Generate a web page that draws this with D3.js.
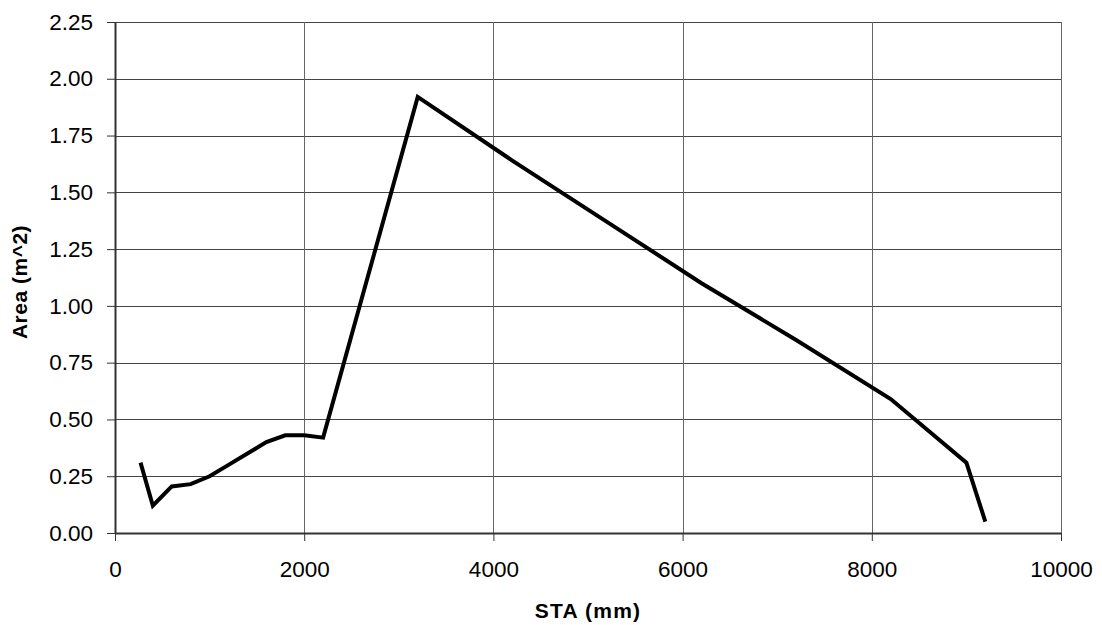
<!DOCTYPE html>
<html>
<head>
<meta charset="utf-8">
<script src="https://cdn.jsdelivr.net/npm/d3@7"></script>
<style>
  html, body { margin: 0; padding: 0; background: #fff; }
  svg { display: block; font-family: "Liberation Sans", Arial, sans-serif; }
</style>
</head>
<body>
<svg id="chart" width="1102" height="625"></svg>
<script>
// Data
const sta  = [270, 400, 600, 800, 1000, 1200, 1400, 1600, 1800, 2000, 2200, 3200, 4200, 5200, 6200, 7200, 8200, 9000, 9200];
const area = [0.31, 0.12, 0.205, 0.215, 0.25, 0.30, 0.35, 0.40, 0.43, 0.43, 0.42, 1.92, 1.64, 1.37, 1.10, 0.85, 0.59, 0.31, 0.05];
const xTicks = [0, 2000, 4000, 6000, 8000, 10000];
const yTicks = [0, 0.25, 0.5, 0.75, 1.0, 1.25, 1.5, 1.75, 2.0, 2.25];
const xTitle = "STA (mm)";
const yTitle = "Area (m^2)";

const W = 1102, H = 625;
const margin = { top: 22, right: 41, bottom: 92, left: 115 };
const iw = W - margin.left - margin.right;
const ih = H - margin.top - margin.bottom;

const svg = d3.select("#chart");
const g = svg.append("g").attr("transform", `translate(${margin.left},${margin.top})`);

const x = d3.scaleLinear().domain([0, 10000]).range([0, iw]);
const y = d3.scaleLinear().domain([0, 2.25]).range([ih, 0]);

// Gridlines
g.append("g").selectAll("line.hg").data(yTicks.filter(d => d > 0)).join("line")
  .attr("x1", 0).attr("x2", iw)
  .attr("y1", d => Math.round(y(d)) + 0.5).attr("y2", d => Math.round(y(d)) + 0.5)
  .attr("stroke", "#444").attr("stroke-width", 1);
g.append("g").selectAll("line.vg").data(xTicks.filter(d => d > 0)).join("line")
  .attr("y1", 0).attr("y2", ih)
  .attr("x1", d => Math.round(x(d)) + 0.5).attr("x2", d => Math.round(x(d)) + 0.5)
  .attr("stroke", "#666").attr("stroke-width", 1);

// Axes
const xAxis = g.append("g").attr("transform", `translate(0,${ih})`)
  .call(d3.axisBottom(x).tickValues(xTicks).tickFormat(d3.format("d")).tickSize(8).tickSizeOuter(0).tickPadding(20));
const yAxis = g.append("g")
  .call(d3.axisLeft(y).tickValues(yTicks).tickFormat(d3.format(".2f")).tickSize(8).tickSizeOuter(0).tickPadding(14));

[xAxis, yAxis].forEach(a => {
  a.select(".domain").attr("stroke", "#333").attr("stroke-width", 2);
  a.selectAll(".tick line").attr("stroke", "#333").attr("stroke-width", 1);
  a.selectAll(".tick text").attr("fill", "#000").style("font-size", "22.5px")
    .style("font-family", "'Liberation Sans', Arial, sans-serif");
});

// Data line
const line = d3.line().x((d, i) => x(sta[i])).y((d, i) => y(area[i]));
g.append("path").datum(area)
  .attr("d", line)
  .attr("fill", "none").attr("stroke", "#000").attr("stroke-width", 4)
  .attr("stroke-linejoin", "miter");

// Titles
svg.append("text")
  .attr("x", margin.left + iw / 2).attr("y", 618)
  .attr("text-anchor", "middle")
  .style("font-size", "21px").style("font-weight", "bold").style("letter-spacing", "1.2px")
  .text(xTitle);

svg.append("text")
  .attr("transform", "translate(27,282) rotate(-90)")
  .attr("text-anchor", "middle")
  .style("font-size", "21px").style("font-weight", "bold").style("letter-spacing", "0.5px")
  .text(yTitle);
</script>
</body>
</html>
